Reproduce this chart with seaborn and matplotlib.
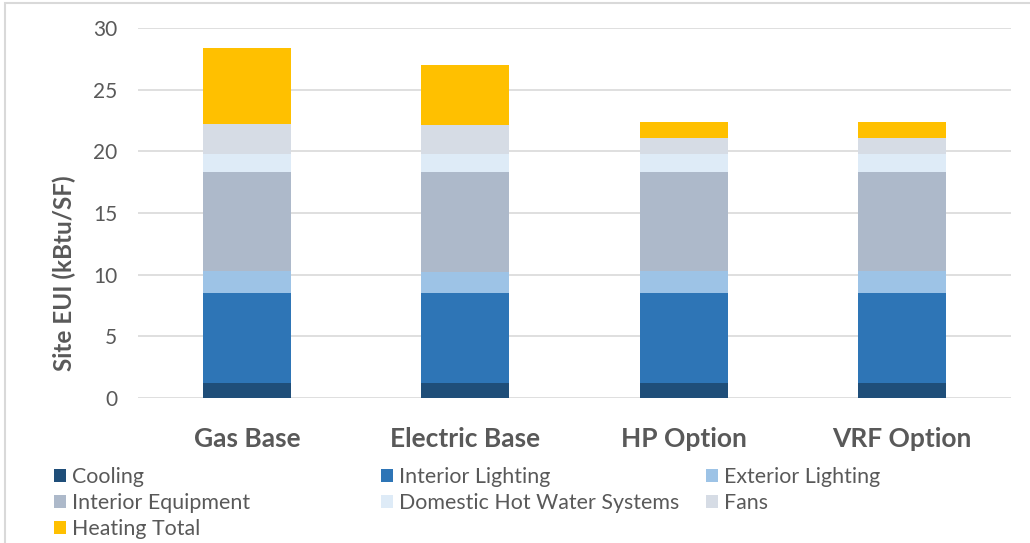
import matplotlib
matplotlib.use("Agg")
import matplotlib.pyplot as plt
from matplotlib.patches import Rectangle, Patch
import numpy as np
import pandas as pd
import seaborn as sns

# Site EUI breakdown (kBtu/SF) per design option
categories = ["Gas Base", "Electric Base", "HP Option", "VRF Option"]
cooling = [1.2, 1.2, 1.2, 1.2]
interior_lighting = [7.3, 7.3, 7.3, 7.3]
exterior_lighting = [1.8, 1.75, 1.8, 1.8]
interior_equipment = [8.05, 8.1, 8.05, 8.05]
domestic_hot_water = [1.45, 1.45, 1.45, 1.45]
fans = [2.4, 2.3, 1.3, 1.3]
heating_total = [6.2, 4.9, 1.3, 1.3]

series_names = ["Cooling", "Interior Lighting", "Exterior Lighting",
                "Interior Equipment", "Domestic Hot Water Systems", "Fans",
                "Heating Total"]
series_values = [cooling, interior_lighting, exterior_lighting,
                 interior_equipment, domestic_hot_water, fans, heating_total]
colors = ["#1F4E79", "#2E75B6", "#9DC3E6", "#ADB9CA", "#DEEBF7", "#D6DCE5",
          "#FFC000"]

y_ticks = [0, 5, 10, 15, 20, 25, 30]

sns.set_theme(style="white")
plt.rcParams["font.family"] = ["Lato", "DejaVu Sans"]
text_gray = "#595959"
grid_gray = "#D9D9D9"

fig = plt.figure(figsize=(10.30, 5.43), dpi=100)
ax = fig.add_axes([138 / 1030, 1 - 398 / 543, (1011 - 138) / 1030, (398 - 28) / 543])

# Stack by drawing cumulative totals from the top layer down
cum = np.cumsum(np.array(series_values), axis=0)
for i in range(len(series_names) - 1, -1, -1):
    df = pd.DataFrame({"option": categories, "value": cum[i]})
    sns.barplot(data=df, x="option", y="value", color=colors[i],
                saturation=1, width=0.403, ax=ax, zorder=3,
                edgecolor="none", linewidth=0)

ax.set_ylim(0, 30)
ax.set_xlim(-0.5, 3.5)
ax.set_yticks(y_ticks)
ax.set_yticklabels([str(t) for t in y_ticks])
ax.yaxis.grid(True, color=grid_gray, linewidth=1.2, zorder=0)
ax.set_axisbelow(True)
for s in ax.spines.values():
    s.set_visible(False)
ax.tick_params(axis="y", length=0, pad=15, labelsize=15, labelcolor=text_gray)
ax.tick_params(axis="x", length=0, pad=21, labelsize=19, labelcolor=text_gray)
for lbl in ax.get_xticklabels():
    lbl.set_fontweight("bold")
ax.set_xlabel("")
ax.set_ylabel("Site EUI (kBtu/SF)", fontsize=17.5, fontweight="bold",
              color=text_gray)
ax.yaxis.set_label_coords(-0.071, 0.336)

# Legend laid out in three columns, filled row by row
handles = [Patch(facecolor=c, edgecolor="none") for c in colors]
col_x = [54 / 1030, 381 / 1030, 706 / 1030]
for col in range(3):
    idx = list(range(col, len(series_names), 3))
    fig.legend([handles[k] for k in idx], [series_names[k] for k in idx],
               loc="upper left", bbox_to_anchor=(col_x[col], 1 - 467 / 543),
               frameon=False, fontsize=15.4, labelcolor=text_gray,
               handlelength=0.56, handleheight=0.56, handletextpad=0.3,
               labelspacing=0.29, borderaxespad=0, borderpad=0)

# Light chart-area border
fig.patches.append(Rectangle((5 / 1030, -0.05), 1.1, 1 - 3 / 543 + 0.05,
                             transform=fig.transFigure, fill=False,
                             edgecolor=grid_gray, linewidth=1.5))

fig.savefig("out.png", dpi=100)
